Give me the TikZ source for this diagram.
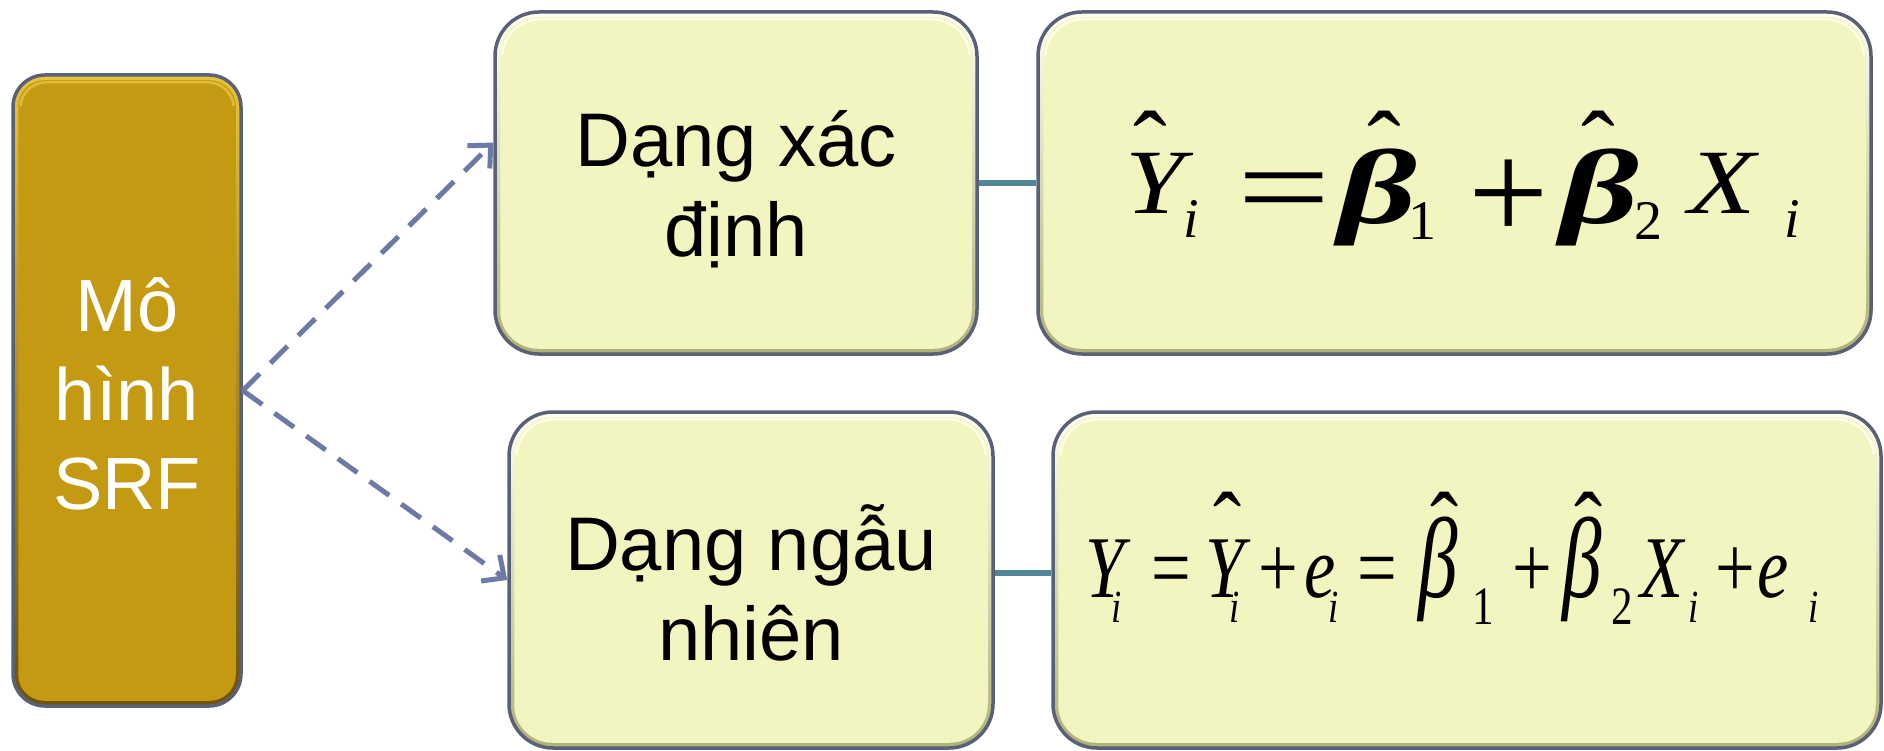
\documentclass[tikz,border=0pt]{standalone}
\usepackage{fontspec}
\usepackage{graphicx}
\setmainfont{Liberation Sans}
\newfontfamily\eqfont{Liberation Serif}
\usetikzlibrary{arrows.meta,calc}

\definecolor{frame}{HTML}{5A6076}
\definecolor{goldbase}{HTML}{C49A12}
\definecolor{goldlight}{HTML}{E6C33E}
\definecolor{golddark}{HTML}{6E5206}
\definecolor{creambase}{HTML}{F2F5C0}
\definecolor{creamlight}{HTML}{FFFFF2}
\definecolor{creamdark}{HTML}{B0B178}
\definecolor{dashblue}{HTML}{6E7AA6}
\definecolor{tealline}{HTML}{4F8796}

% bevelled rounded box: name, centre, width, height, corner radius, palette
\newcommand\bevelbox[6]{%
  \node[shade, top color=#6light, bottom color=#6dark, draw=frame, line width=3.5pt,
        minimum width=#3pt, minimum height=#4pt, rounded corners=#5pt, inner sep=0pt] (#1) at (#2) {};
  \pgfmathsetmacro\innerr{#5-6}%
  \fill[#6base, rounded corners=\innerr pt] ($(#1.north west)+(7,7)$) rectangle ($(#1.south east)+(-7,-7)$);
  \begin{scope}
    \clip ($(#1.north west)+(-2,-2)$) rectangle ($(#1.north east)+(2,#5)$);
    \draw[#6light, opacity=.85, line width=2.5pt, rounded corners=\innerr pt]
      ($(#1.north west)+(9,9)$) rectangle ($(#1.south east)+(-9,-9)$);
  \end{scope}
}

% a glyph placed at a fixed offset from the start of a formula line
\newcommand\tok[3]{\rlap{\hspace*{#1pt}\raisebox{#2pt}{#3}}}
\newcommand\ctok[3]{\tok{#1}{#2}{\scalebox{0.8}[1]{#3}}}
\newcommand\subT[1]{{\fontsize{56}{56}\selectfont #1}}
\newcommand\subB[1]{{\fontsize{46}{46}\selectfont #1}}
\newcommand\subD[1]{{\fontsize{54}{54}\selectfont #1}}
\newcommand\bigbeta{{\fontsize{106}{106}\selectfont\bfseries\itshape β}}

\tikzset{
  lbl/.style={align=center, inner sep=0pt, text=black},
  eq/.style={inner sep=0pt, anchor=base west, font=\eqfont},
  dasharrow/.style={dashblue, line width=5pt, dash pattern=on 24pt off 15pt,
    -{Straight Barb[length=17pt, width=32pt]}},
  link/.style={tealline, line width=6pt},
}

\begin{document}
\begin{tikzpicture}[x=1pt, y=-1pt]
\useasboundingbox (0,0) rectangle (1884,751);

\bevelbox{L}{127,390.5}{228}{631}{32}{gold}
\bevelbox{A}{736,183}{482}{342}{44}{cream}
\bevelbox{B}{1454.5,183}{833}{342}{44}{cream}
\bevelbox{C}{751,580}{484}{336}{44}{cream}
\bevelbox{D}{1467,580}{828}{336}{44}{cream}

\node[lbl, text=white, font=\fontsize{74}{89}\selectfont] (tL) at ($(L)+(0,3)$) {Mô\\hình\\SRF};
\node[lbl, font=\fontsize{76}{90}\selectfont] (tA) at ($(A)+(0,6)$) {Dạng xác\\định};
\node[lbl, font=\fontsize{76}{90}\selectfont] (tC) at ($(C)+(0,3)$) {Dạng ngẫu\\nhiên};

% deterministic form of the sample regression function
\node[eq] (eA) at (1125,214) {\fontsize{92}{92}\selectfont
  \tok{0}{0}{\scalebox{1.15}[1]{\itshape Y}}%
  \tok{8}{32}{\scalebox{1.1}{ˆ}}%
  \tok{58}{-24}{\subT{\itshape i}}%
  \tok{112}{-14}{\scalebox{1.8}[1.3]{=}}%
  \tok{213}{-10}{\scalebox{1.45}[1]{\bigbeta}}%
  \tok{242}{32}{\scalebox{1.1}{ˆ}}%
  \tok{283}{-26}{\subT{1}}%
  \tok{343}{-27}{\scalebox{1.55}{+}}%
  \tok{435}{-10}{\scalebox{1.45}[1]{\bigbeta}}%
  \tok{456}{32}{\scalebox{1.1}{ˆ}}%
  \tok{509}{-26}{\subT{2}}%
  \tok{563}{0}{\scalebox{1.2}[1]{\itshape X}}%
  \tok{659}{-24}{\subT{\itshape i}}%
  \hspace*{670pt}};

% stochastic form
\node[eq] (eD) at (1085,597) {\fontsize{88}{88}\selectfont
  \ctok{0}{0}{\itshape Y}%
  \ctok{26}{-25}{\subB{\itshape i}}%
  \ctok{66}{0}{=}%
  \ctok{120}{0}{\itshape Y}%
  \ctok{128}{38}{\scalebox{1.2}[1.1]{ˆ}}%
  \ctok{144}{-25}{\subB{\itshape i}}%
  \ctok{173}{0}{+}%
  \ctok{219}{0}{\itshape e}%
  \ctok{243}{-25}{\subB{\itshape i}}%
  \ctok{272}{0}{=}%
  \tok{333}{0}{\scalebox{0.9}[1.3]{\itshape β}}%
  \ctok{345}{38}{\scalebox{1.2}[1.1]{ˆ}}%
  \ctok{387}{-27}{\subD{1}}%
  \ctok{427}{0}{+}%
  \tok{477}{0}{\scalebox{0.9}[1.3]{\itshape β}}%
  \ctok{489}{38}{\scalebox{1.2}[1.1]{ˆ}}%
  \ctok{526}{-27}{\subD{2}}%
  \ctok{555}{0}{\itshape X}%
  \ctok{603}{-25}{\subB{\itshape i}}%
  \ctok{630}{0}{+}%
  \ctok{672}{0}{\itshape e}%
  \ctok{723}{-25}{\subB{\itshape i}}%
  \hspace*{735pt}};

\draw[dasharrow] (L.east) -- ($(A.north west)!0.383!(A.south west)$);
\draw[dasharrow] (L.east) -- ($(C.north west)!0.5!(C.south west)$);
\draw[link] (A.east) -- (A.east -| B.west);
\draw[link] ($(C.east)+(0,-7)$) -- ($(C.east -| D.west)+(0,-7)$);
\end{tikzpicture}
\end{document}
